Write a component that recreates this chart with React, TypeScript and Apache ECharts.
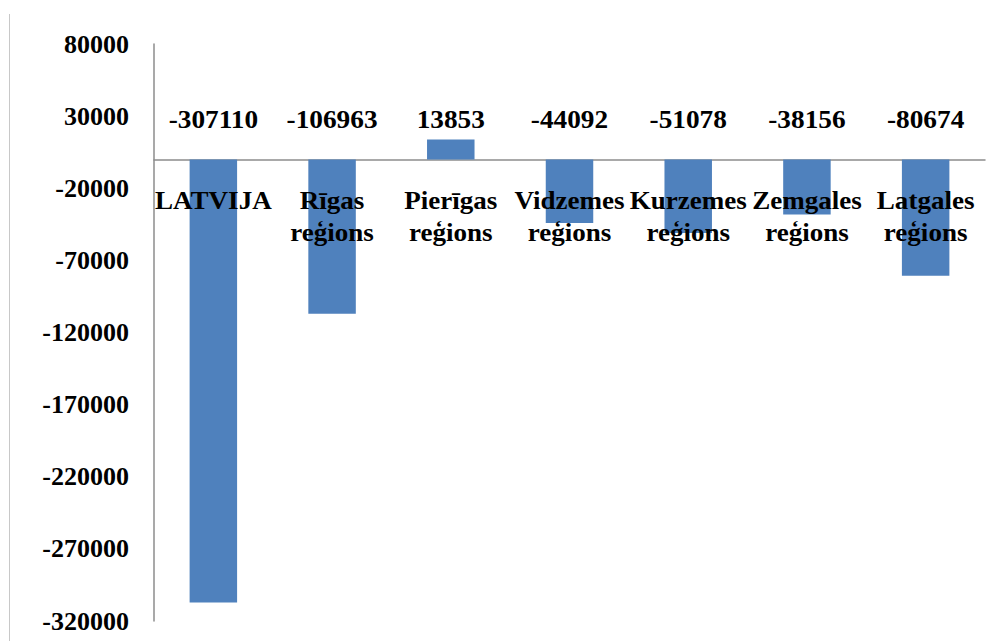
import React, { useEffect, useRef } from "react";
import * as echarts from "echarts";

const categories: string[] = [
  "LATVIJA",
  "Rīgas\nreģions",
  "Pierīgas\nreģions",
  "Vidzemes\nreģions",
  "Kurzemes\nreģions",
  "Zemgales\nreģions",
  "Latgales\nreģions",
];
const values: number[] = [-307110, -106963, 13853, -44092, -51078, -38156, -80674];
const yMin = -320000;
const yMax = 80000;
const yStep = 50000;

const FONT = "Liberation Serif";

export default function App() {
  const ref = useRef<HTMLDivElement>(null);
  useEffect(() => {
    if (!ref.current) return;
    const chart = echarts.init(ref.current, undefined, { renderer: "svg" });
    chart.setOption({
      animation: false,
      backgroundColor: "#ffffff",
      grid: {
        left: 154,
        right: 2,
        top: 44,
        bottom: 20,
        containLabel: false,
        outerBoundsMode: "none",
      },
      xAxis: {
        type: "category",
        data: categories,
        axisLine: { onZero: true, lineStyle: { color: "#8c8c8c", width: 1.5 } },
        axisTick: { show: false },
        axisLabel: { show: false },
        splitLine: { show: false },
      },
      yAxis: {
        type: "value",
        min: yMin,
        max: yMax,
        interval: yStep,
        axisLine: { show: true, lineStyle: { color: "#8c8c8c", width: 1.5 } },
        axisTick: { show: false },
        splitLine: { show: false },
        axisLabel: {
          margin: 25,
          color: "#000",
          fontFamily: FONT,
          fontWeight: "bold",
          fontSize: 26,
          formatter: (v: number) => String(v),
        },
      },
      series: [
        {
          type: "bar",
          data: values,
          barWidth: "40%",
          itemStyle: { color: "#4F81BD" },
        },
        {
          type: "custom",
          data: values.map((v, i) => [i, v]),
          z: 20,
          renderItem: (params: any, api: any) => {
            const idx = api.value(0);
            const v = api.value(1);
            const p = api.coord([idx, 0]);
            return {
              type: "group",
              children: [
                {
                  type: "text",
                  x: p[0],
                  y: p[1] - 40,
                  scaleX: 1.05,
                  style: {
                    text: String(v),
                    fill: "#000",
                    fontFamily: FONT,
                    fontWeight: "bold",
                    fontSize: 26,
                    align: "center",
                    verticalAlign: "middle",
                  },
                },
                {
                  type: "text",
                  x: p[0],
                  y: p[1] + 25,
                  scaleX: 1.04,
                  style: {
                    text: categories[idx],
                    fill: "#000",
                    fontFamily: FONT,
                    fontWeight: "bold",
                    fontSize: 26,
                    lineHeight: 32,
                    align: "center",
                    verticalAlign: "top",
                  },
                },
              ],
            };
          },
        },
      ],
      graphic: [
        {
          type: "line",
          shape: { x1: 9.5, y1: 14, x2: 9.5, y2: 641 },
          style: { stroke: "#c8c8c8", lineWidth: 1 },
        },
      ],
    });
    return () => chart.dispose();
  }, []);
  return (
    <div
      ref={ref}
      style={{ position: "fixed", left: 0, top: 0, width: 987, height: 641, background: "#fff" }}
    />
  );
}
